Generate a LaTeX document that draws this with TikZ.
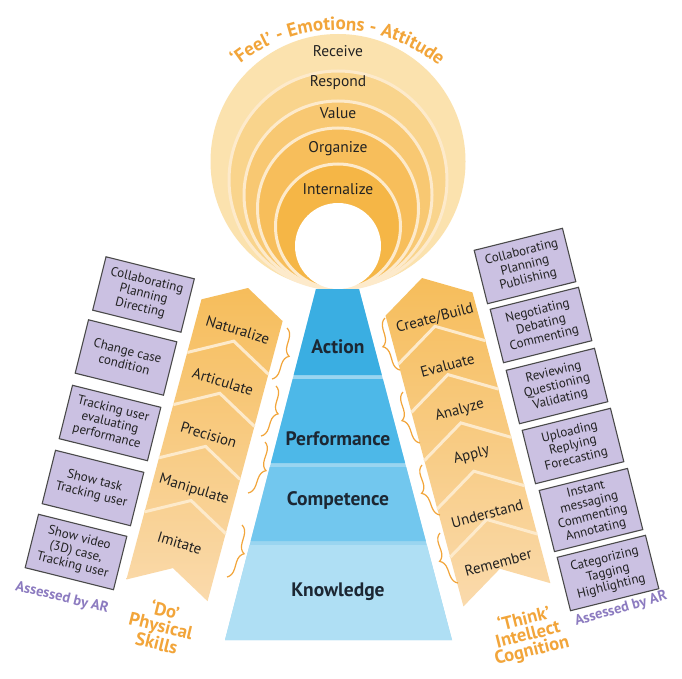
\documentclass[tikz,border=0pt]{standalone}
\usepackage{fontspec}
\setmainfont{PT Sans}
\usetikzlibrary{decorations.text,decorations.pathreplacing}
\definecolor{dor}{HTML}{F2A53A}
\definecolor{purp}{HTML}{8C7BC0}
\definecolor{boxf}{HTML}{CBC1E2}
\definecolor{boxd}{HTML}{4A4A4A}
\definecolor{cream}{HTML}{FDEACB}
\definecolor{ringA}{HTML}{FBE2AE}
\definecolor{ringB}{HTML}{F9D48C}
\definecolor{ringC}{HTML}{F8C872}
\definecolor{ringD}{HTML}{F7BE5B}
\definecolor{ringE}{HTML}{F5B646}
\definecolor{stripT}{HTML}{F6BD5B}
\definecolor{stripB}{HTML}{FADAAC}
\definecolor{pyrS}{HTML}{9AD5F0}
\definecolor{pyrA}{HTML}{3AAEE2}
\definecolor{pyrP}{HTML}{4DB8E8}
\definecolor{pyrC}{HTML}{72C7EE}
\definecolor{pyrK}{HTML}{AFDFF4}
\definecolor{pyrtext}{HTML}{1C2733}
\definecolor{txt}{HTML}{222222}
\begin{document}
\begin{tikzpicture}[x=1pt,y=-1pt,
  abox/.style={draw=boxd, line width=1.1pt, fill=boxf, minimum width=91pt, minimum height=55pt, align=center, inner sep=1pt, font=\fontsize{13}{14}\selectfont, text=txt},
  seglabel/.style={font=\fontsize{15}{17}\selectfont, text=txt},
  ringlabel/.style={font=\fontsize{15.5}{17}\selectfont, text=txt},
  pyrlabel/.style={font=\fontsize{19.5}{21}\selectfont\bfseries, text=pyrtext},
  brc/.style={decorate, decoration={brace, amplitude=10pt}, draw=dor, line width=1.2pt},
  sepline/.style={draw=cream, line width=3pt},
  assessed/.style={font=\fontsize{14.5}{16}\selectfont\bfseries, text=purp},
  domlabel/.style={font=\fontsize{18.5}{16}\selectfont\bfseries, text=dor, align=center}
]
\useasboundingbox (0,0) rectangle (682,679);
\fill[white] (0,0) rectangle (682,679);

% ---- Feel rings ----
\fill[ringA] (338,161.5) circle[radius=127.5pt];
\filldraw[fill=ringB, draw=cream, line width=3pt] (338,180) circle[radius=109pt];
\filldraw[fill=ringC, draw=cream, line width=3pt] (338,195) circle[radius=94pt];
\filldraw[fill=ringD, draw=cream, line width=3pt] (338,208.5) circle[radius=80.5pt];
\filldraw[fill=ringE, draw=cream, line width=3pt] (338,226.5) circle[radius=62.5pt];
\fill[white] (338,246) circle[radius=43pt];
\node[ringlabel] (receive) at (338,51) {Receive};
\node[ringlabel] (respond) at (338,83) {Respond};
\node[ringlabel] (value) at (338,113) {Value};
\node[ringlabel] (organize) at (338,149) {Organize};
\node[ringlabel] (internalize) at (338,189) {Internalize};
\path[decorate, decoration={text along path, text align=center,
   text format delimiters={|}{|},
   text={|\fontsize{19}{19}\selectfont\bfseries\color{dor}|‘Feel’ - Emotions - Attitude}}]
   (206.9,98.2) arc[start angle=-145, end angle=-35, radius=160];

% ---- pyramid ----
\fill[pyrS] (316,289) -- (359,289) -- (452,640) -- (225,640) -- cycle;
\fill[pyrA] (316,289) -- (359,289) -- (381.8,375) -- (293.7,375) -- cycle;
\fill[pyrP] (292.7,379) -- (382.9,379) -- (405.1,463) -- (270.9,463) -- cycle;
\fill[pyrC] (269.8,467) -- (406.2,467) -- (425.8,541) -- (250.7,541) -- cycle;
\fill[pyrK] (249.6,545) -- (426.8,545) -- (452,640) -- (225,640) -- cycle;
\node[pyrlabel] (action) at (338,347) {Action};
\node[pyrlabel] (performance) at (338,439) {Performance};
\node[pyrlabel] (competence) at (338,500) {Competence};
\node[pyrlabel] (knowledge) at (338,592) {Knowledge};

% ---- left strip (Do) ----
\begin{scope}[shift={(248,288)}, rotate=-15]
  \shade[top color=stripT, bottom color=stripB] (-42,23) -- (0,0) -- (42,23) -- (42,313) -- (0,290) -- (-42,313) -- cycle;
  \foreach \s in {55,109,164,220} {
    \draw[sepline] (-42,23+\s) -- (0,\s) -- (42,23+\s);
  }
  \node[seglabel, rotate=-17] (naturalize) at (1,43) {Naturalize};
  \node[seglabel, rotate=-17] (articulate) at (0,97) {Articulate};
  \node[seglabel, rotate=-17] (precision) at (0,152) {Precision};
  \node[seglabel, rotate=-17] (manipulate) at (0,209) {Manipulate};
  \node[seglabel, rotate=-17] (imitate) at (0,264) {Imitate};
\end{scope}

% ---- right strip (Think) ----
\begin{scope}[shift={(422,278)}, rotate=15]
  \shade[top color=stripT, bottom color=stripB] (-45,27) -- (0,0) -- (45,27) -- (45,328) -- (0,301) -- (-45,328) -- cycle;
  \foreach \s in {50,100,150,200,250} {
    \draw[sepline] (-45,27+\s) -- (0,\s) -- (45,27+\s);
  }
  \node[seglabel, rotate=15] (create) at (2,42.5) {Create/Build};
  \node[seglabel, rotate=15] (evaluate) at (2,91) {Evaluate};
  \node[seglabel, rotate=15] (analyze) at (2,138) {Analyze};
  \node[seglabel, rotate=15] (apply) at (2,184) {Apply};
  \node[seglabel, rotate=15] (understand) at (2,244.6) {Understand};
  \node[seglabel, rotate=15] (remember) at (0,294.5) {Remember};
\end{scope}

% ---- braces ----
\draw[brc] (287,328) -- (272,379);
\draw[brc] (276,386) -- (261,436);
\draw[brc] (265,442) -- (248,493);
\draw[brc] (242,525) -- (227,577);
\draw[brc] (400,370) -- (385,318);
\draw[brc] (420,443) -- (403,392);
\draw[brc] (440,515) -- (422,465);
\draw[brc] (458,583) -- (440,533);

% ---- left boxes ----
\node[abox, rotate=-14] (lb1) at (143.5,294.5) {Collaborating\\Planning\\Directing};
\node[abox, rotate=-14] (lb2) at (126,357.5) {Change case\\condition};
\node[abox, rotate=-14] (lb3) at (110,423) {Tracking user\\evaluating\\performance};
\node[abox, rotate=-14] (lb4) at (93,488) {Show task\\Tracking user};
\node[abox, rotate=-14] (lb5) at (76,552) {Show video\\(3D) case,\\Tracking user};

% ---- right boxes ----
\node[abox, rotate=14] (rb1) at (525,266) {Collaborating\\Planning\\Publishing};
\node[abox, rotate=14] (rb2) at (541,325) {Negotiating\\Debating\\Commenting};
\node[abox, rotate=14] (rb3) at (557,386) {Reviewing\\Questioning\\Validating};
\node[abox, rotate=14] (rb4) at (573,446) {Uploading\\Replying\\Forecasting};
\node[abox, rotate=14, minimum height=63pt] (rb5) at (591,510) {Instant\\messaging\\Commenting\\Annotating};
\node[abox, rotate=14] (rb6) at (608,573) {Categorizing\\Tagging\\Highlighting};

% ---- bottom labels ----
\node[assessed, rotate=-14] (assL) at (62,598) {Assessed by AR};
\node[assessed, rotate=16] (assR) at (621,609) {Assessed by AR};
\node[domlabel, rotate=-14] (doL) at (161,626) {‘Do’\\Physical\\Skills};
\node[domlabel, rotate=14] (thinkL) at (528,635) {‘Think’\\Intellect\\Cognition};
\end{tikzpicture}
\end{document}
